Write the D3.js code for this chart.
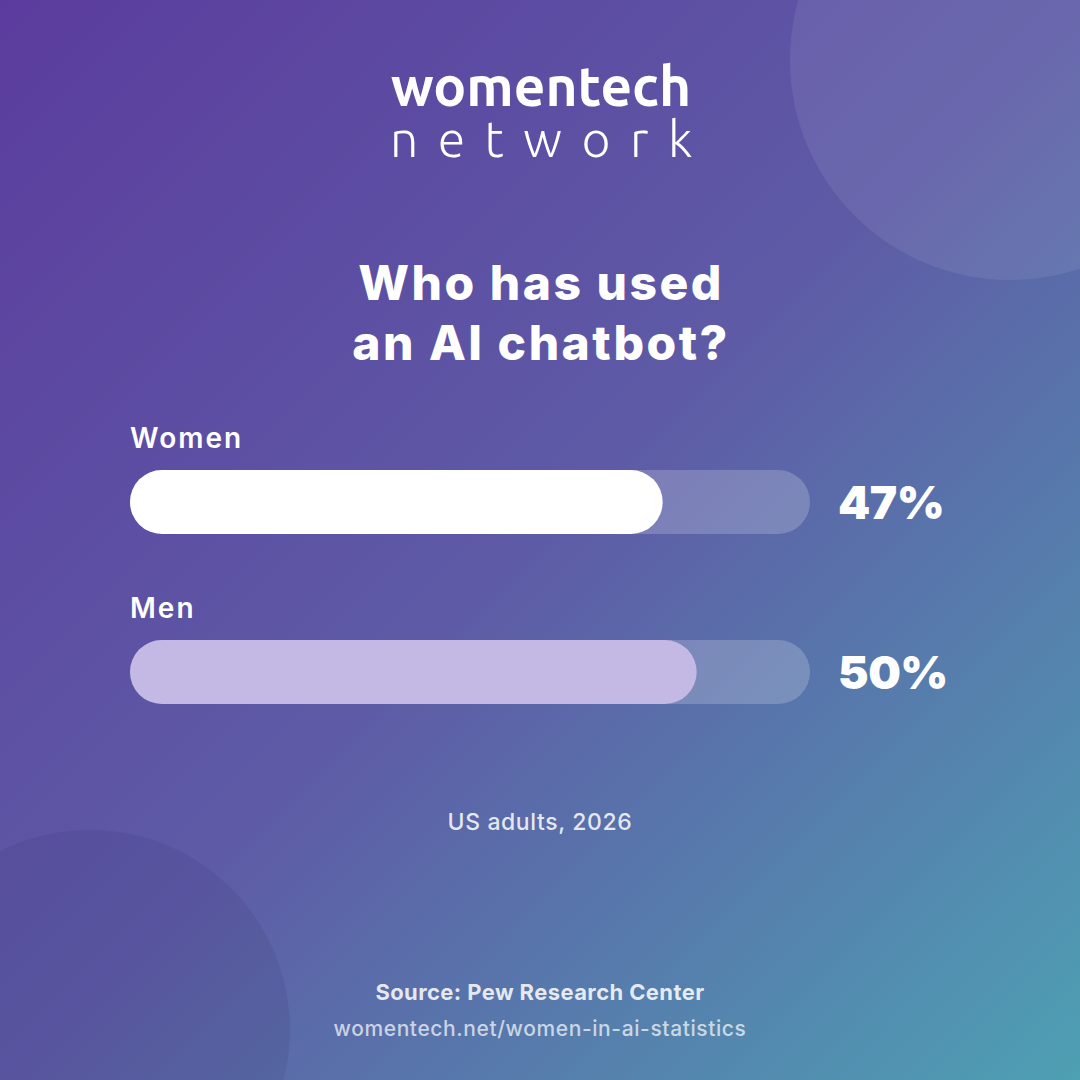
<!DOCTYPE html>
<html>
<head>
<meta charset="utf-8">
<script src="https://cdn.jsdelivr.net/npm/d3@7"></script>
<style>
  html, body { margin: 0; padding: 0; background: #5b3c9e; }
  svg { display: block; }
</style>
</head>
<body>
<script>
    // data
    var groups = ['Women', 'Men'];
    var values = [47, 50];
    var valueLabels = ['47%', '50%'];
    var barColors = ['#ffffff', '#c3b9e4'];

    var W = 1080, H = 1080;
    var font = "Inter, 'Noto Sans', sans-serif";

    var svg = d3.select('body').append('svg')
            .attr('width', W)
            .attr('height', H);

    // background gradient
    var defs = svg.append('defs');
    var grad = defs.append('linearGradient')
            .attr('id', 'bg')
            .attr('x1', '0%').attr('y1', '0%')
            .attr('x2', '100%').attr('y2', '100%');
    grad.append('stop').attr('offset', '0%').attr('stop-color', '#5b3c9e');
    grad.append('stop').attr('offset', '50%').attr('stop-color', '#5e5ba6');
    grad.append('stop').attr('offset', '100%').attr('stop-color', '#4ea0b3');

    svg.append('rect')
            .attr('width', W).attr('height', H)
            .attr('fill', 'url(#bg)');

    // decorative circles
    svg.append('circle')
            .attr('cx', 1010).attr('cy', 60).attr('r', 220)
            .attr('fill', '#ffffff').attr('fill-opacity', 0.08);
    svg.append('circle')
            .attr('cx', 90).attr('cy', 1030).attr('r', 200)
            .attr('fill', '#1a1040').attr('fill-opacity', 0.08);

    // logo
    svg.append('text')
            .attr('x', 541).attr('y', 106)
            .attr('text-anchor', 'middle')
            .attr('fill', '#fff')
            .style('font-family', "Ubuntu, 'Open Sans', sans-serif")
            .style('font-weight', 700)
            .style('font-size', '55px')
            .text('womentech');
    svg.append('text')
            .attr('x', 551).attr('y', 157)
            .attr('text-anchor', 'middle')
            .attr('fill', '#fff')
            .style('font-family', "Ubuntu, 'Open Sans', sans-serif")
            .style('font-weight', 300)
            .style('font-size', '50px')
            .style('letter-spacing', '19.5px')
            .text('network');

    // title
    var title = svg.append('text')
            .attr('text-anchor', 'middle')
            .attr('fill', '#fff')
            .style('font-family', font)
            .style('font-weight', 800)
            .style('font-size', '48px')
            .style('letter-spacing', '2.5px');
    title.append('tspan').attr('x', 541).attr('y', 300).text('Who has used');
    title.append('tspan').attr('x', 541).attr('y', 360).text('an AI chatbot?');

    // bars
    var x = d3.scaleLinear().domain([0, 60]).range([0, 680]);
    var y = d3.scalePoint().domain(groups).range([470, 640]);
    var barH = 64, left = 130;

    var g = svg.selectAll('.row')
            .data(groups)
            .enter().append('g')
            .attr('class', 'row')
            .attr('transform', function (d) { return 'translate(' + left + ',' + y(d) + ')'; });

    g.append('text')
            .attr('x', 0).attr('y', -22)
            .attr('fill', '#fff')
            .style('font-family', font)
            .style('font-weight', 600)
            .style('font-size', '28px')
            .style('letter-spacing', '2px')
            .text(function (d) { return d; });

    g.append('rect')
            .attr('width', x(60)).attr('height', barH)
            .attr('rx', barH / 2)
            .attr('fill', '#ffffff').attr('fill-opacity', 0.2);

    g.append('rect')
            .attr('width', function (d, i) { return x(values[i]); })
            .attr('height', barH)
            .attr('rx', barH / 2)
            .attr('fill', function (d, i) { return barColors[i]; });

    g.append('text')
            .attr('x', 708).attr('y', barH / 2 + 17)
            .attr('fill', '#fff')
            .style('font-family', font)
            .style('font-weight', 900)
            .style('font-size', '46px')
            .style('letter-spacing', '-0.5px')
            .text(function (d, i) { return valueLabels[i]; });

    // notes
    svg.append('text')
            .attr('x', 540).attr('y', 830)
            .attr('text-anchor', 'middle')
            .attr('fill', '#fff').attr('fill-opacity', 0.85)
            .style('font-family', font)
            .style('font-weight', 500)
            .style('font-size', '23px')
            .style('letter-spacing', '0.6px')
            .text('US adults, 2026');

    svg.append('text')
            .attr('x', 540).attr('y', 1000)
            .attr('text-anchor', 'middle')
            .attr('fill', '#fff').attr('fill-opacity', 0.85)
            .style('font-family', font)
            .style('font-weight', 700)
            .style('font-size', '22px')
            .style('letter-spacing', '0.4px')
            .text('Source: Pew Research Center');

    svg.append('text')
            .attr('x', 540).attr('y', 1036)
            .attr('text-anchor', 'middle')
            .attr('fill', '#fff').attr('fill-opacity', 0.7)
            .style('font-family', font)
            .style('font-weight', 500)
            .style('font-size', '21px')
            .style('letter-spacing', '0.6px')
            .text('womentech.net/women-in-ai-statistics');
</script>
</body>
</html>
